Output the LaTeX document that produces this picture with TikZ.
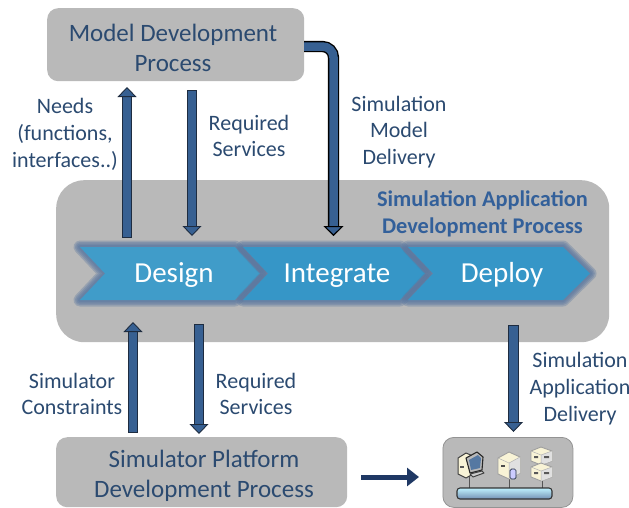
\documentclass[tikz,border=0pt]{standalone}
\usepackage{fontspec}
\setmainfont{Carlito}
\usetikzlibrary{arrows.meta,calc}
\definecolor{boxgray}{HTML}{B9B9B9}
\definecolor{ink}{HTML}{2B4A70}
\definecolor{titleblue}{HTML}{33609A}
\definecolor{arrowblue}{HTML}{376092}
\definecolor{arrowedge}{HTML}{1E2C40}
\definecolor{navy}{HTML}{1F3864}
\definecolor{glow}{HTML}{56749E}
\definecolor{chevA}{HTML}{409CC9}
\definecolor{chevB}{HTML}{3696C7}
\definecolor{cream}{HTML}{F8F3D6}
\definecolor{icoedge}{HTML}{555555}
\tikzset{
  procbox/.style={fill=boxgray,draw=none,rounded corners=#1},
  lbl/.style={text=ink,font=\fontsize{22}{26.7}\selectfont,align=center,inner sep=0pt},
  boxlbl/.style={text=ink,font=\fontsize{25}{30}\selectfont,align=center,inner sep=0pt},
  steplbl/.style={text=white,font=\fontsize{29}{30}\selectfont,inner sep=0pt,anchor=base},
  titlelbl/.style={text=titleblue,font=\bfseries\fontsize{22.4}{27}\selectfont,align=center,inner sep=0pt},
  blockarrow/.style={draw=arrowblue,line width=8.5pt,
    -{Triangle[length=10pt,width=19pt,color=arrowedge,fill=arrowblue,line width=.9pt]},
    preaction={draw=arrowedge,line width=10.3pt,arrows=-,shorten >=6pt,shorten <=-.9pt}},
  heavyarrow/.style={draw=arrowblue,line width=8.5pt,
    -{Triangle[length=10pt,width=20pt,color=black,fill=arrowblue,line width=1.1pt]},
    preaction={draw=black,line width=11.2pt,arrows=-,shorten >=6pt}},
  chevglow/.style={draw=glow,line join=round,opacity=.33,fill=none},
}
\newcommand{\chevron}[5]{% x-left, x-right-shoulder, x-tip, x-notch, fill
  \foreach \w in {13,10,7,4}{
    \draw[chevglow,line width=\w pt] (#1,247) -- (#2,247) -- (#3,273.5) -- (#2,300) -- (#1,300) -- (#4,273.5) -- cycle;}
  \fill[#5] (#1,247) -- (#2,247) -- (#3,273.5) -- (#2,300) -- (#1,300) -- (#4,273.5) -- cycle;
}
\begin{document}
\begin{tikzpicture}[x=1pt,y=-1pt]
\useasboundingbox (0,0) rectangle (629,507);
% process boxes
\node[procbox=11pt,minimum width=257pt,minimum height=73pt,anchor=north west] (model) at (47,8) {};
\node[procbox=28pt,minimum width=553pt,minimum height=162pt,anchor=north west] (app) at (56,180) {};
\node[procbox=11pt,minimum width=291pt,minimum height=70pt,anchor=north west] (platform) at (56,437) {};
\node[procbox=11pt,draw=gray!85,line width=.8pt,minimum width=130pt,minimum height=70pt,anchor=north west] (deploybox) at (442.5,437) {};
\node[boxlbl] (modeltxt) at (173,48) {Model Development\\Process};
\node[boxlbl] (platformtxt) at (204,476) {Simulator Platform\\Development Process};
\node[titlelbl] (apptitle) at (482.5,214) {Simulation Application\\Development Process};
% chevrons
\chevron{80}{235}{260}{105}{chevA}
\chevron{243}{400}{425}{268}{chevB}
\chevron{408}{563}{590}{433}{chevB}
\node[steplbl] (design) at (174,282) {Design};
\node[steplbl] (integrate) at (337,282) {Integrate};
\node[steplbl] (deploy) at (502,282) {Deploy};
% connector ends
\coordinate (needsA) at (127,237);   \coordinate (needsB) at (127,87);
\coordinate (reqA) at (192,91);      \coordinate (reqB) at (192,236);
\coordinate (delA) at (304,46.5);    \coordinate (delC) at (333.5,46.5); \coordinate (delB) at (333.5,236);
\coordinate (conA) at (133,432);     \coordinate (conB) at (133,322);
\coordinate (req2A) at (199,325);    \coordinate (req2B) at (199,434);
\coordinate (appA) at (513.5,326);   \coordinate (appB) at (513.5,432);
\coordinate (platA) at (361,477);    \coordinate (platB) at (419,477);
\draw[blockarrow] (needsA) -- (needsB);
\draw[blockarrow] (reqA) -- (reqB);
\draw[heavyarrow,rounded corners=11pt] (delA) -- (delC) -- (delB);
\draw[blockarrow] (conA) -- (conB);
\draw[blockarrow] (req2A) -- (req2B);
\draw[blockarrow] (appA) -- (appB);
\draw[draw=navy,line width=5pt,-{Triangle[length=12pt,width=18pt,color=navy]}] (platA) -- (platB);
% labels
\node[lbl] (needs) at (65,134.5) {Needs\\(functions,\\interfaces..)};
\node[lbl] (req1) at (249,136) {Required\\Services};
\node[lbl] (deliv) at (399,132) {Simulation\\Model\\Delivery};
\node[lbl] (cons) at (72,394) {Simulator\\Constraints};
\node[lbl] (req2) at (256,394) {Required\\Services};
\node[lbl,anchor=north] (appdel) at (580,352.5) {Simulation\\Application\\Delivery};
% network icon
\draw[icoedge,line width=.7pt] (469,476) -- (469,488) (509,476) -- (509,488) (542,478) -- (542,488);
\begin{scope}[line join=round]
 % workstation
 \draw[black!75,line width=1pt,fill=cream] (458,458) -- (466,453) -- (473,456) -- (473,474) -- (466,478) -- (458,474) -- cycle;
 \fill[black!65] (460,466) rectangle (464,468);
 \draw[black!85,line width=1.1pt,fill=gray!55] (466,458) -- (477,452) -- (483,457) -- (482,470) -- (470,473) -- cycle;
 \fill[arrowblue!85] (469,460) -- (478,455) -- (481,458) -- (480,468) -- (471,470) -- cycle;
 \draw[black!75,line width=1pt,fill=gray!40] (470,474) -- (482,471) -- (484,473) -- (473,477) -- cycle;
 % tower
 \draw[gray!75,line width=.9pt,fill=cream] (498,458) -- (509,452) -- (520,457) -- (520,473) -- (509,479) -- (498,474) -- cycle;
 \fill[black!12] (509,463) -- (520,457) -- (520,473) -- (509,479) -- cycle;
 \draw[gray!60,line width=.5pt] (498,458) -- (509,463) -- (520,457) (509,463) -- (509,479);
 \fill[black!70] (501,465) rectangle (505,467);
 \draw[arrowedge,line width=.7pt,fill=blue!20!white,rounded corners=1.5pt] (510,469) rectangle (516,479);
 % rack
 \foreach \y in {447,463}{
  \draw[gray!75,line width=.9pt,fill=cream] (531,\y+4) -- (541,\y) -- (552,\y+4) -- (552,\y+14) -- (541,\y+18) -- (531,\y+14) -- cycle;
  \fill[black!12] (541,\y+8) -- (552,\y+4) -- (552,\y+14) -- (541,\y+18) -- cycle;
  \draw[gray!60,line width=.5pt] (531,\y+4) -- (541,\y+8) -- (552,\y+4) (541,\y+8) -- (541,\y+18);
  \fill[black!65] (534,\y+9) rectangle (538,\y+11) (544,\y+9) rectangle (549,\y+11);
 }
 % bus
 \draw[black!80,line width=1.1pt,top color=blue!20!cyan!25!white,bottom color=arrowblue!70,rounded corners=3pt] (457,488) rectangle (552,499);
\end{scope}
\end{tikzpicture}
\end{document}
